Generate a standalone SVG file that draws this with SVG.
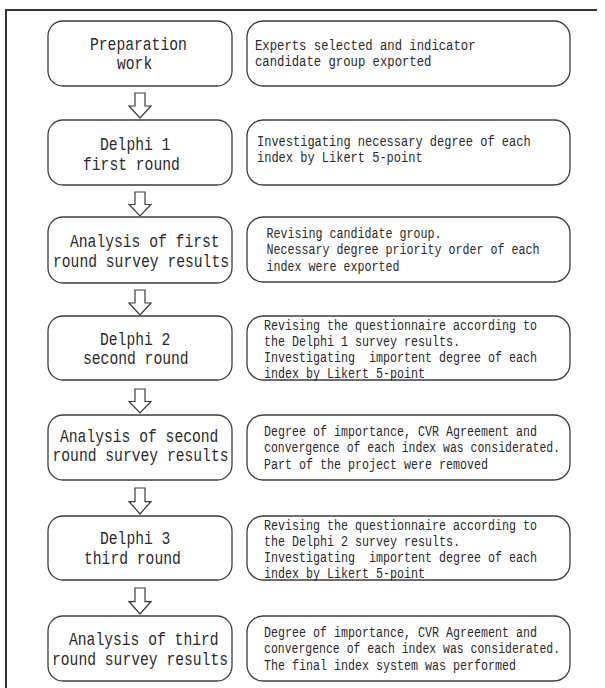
<svg xmlns="http://www.w3.org/2000/svg" width="605" height="688" viewBox="0 0 605 688">
<style>
.frame{fill:none;stroke:#333;stroke-width:2}
.box{fill:#fff;stroke:#3c3c3c;stroke-width:1.3}
.arr{fill:#fff;stroke:#3c3c3c;stroke-width:1.2;stroke-linejoin:miter}
.lt{font-family:"Liberation Mono","DejaVu Sans Mono",monospace;font-size:17.5px;fill:#2a2a2a}
.rt{font-family:"Liberation Mono","DejaVu Sans Mono",monospace;font-size:14px;fill:#2a2a2a}
</style>
<defs>
<path id="dn" d="M-5,0 H5 V13 H11 L0,25 L-11,13 H-5 Z"/>
</defs>
<rect width="605" height="688" fill="#fff"/>
<path class="frame" d="M6,688 V10 H597"/>

<g id="connectors">
<use href="#dn" class="arr" transform="translate(140,93)"/>
<use href="#dn" class="arr" transform="translate(140,192) scale(1,0.96)"/>
<use href="#dn" class="arr" transform="translate(140,290)"/>
<use href="#dn" class="arr" transform="translate(140,389) scale(1,0.96)"/>
<use href="#dn" class="arr" transform="translate(140,488) scale(1,1.04)"/>
<use href="#dn" class="arr" transform="translate(140,588) scale(1,1.04)"/>
</g>

<g id="n1">
<rect class="box" x="48" y="21" width="184" height="65" rx="15"/>
<text class="lt" x="90" y="50" textLength="96.8" lengthAdjust="spacingAndGlyphs">Preparation</text>
<text class="lt" x="117" y="69" textLength="35.2" lengthAdjust="spacingAndGlyphs">work</text>
</g>
<g id="d1">
<rect class="box" x="247" y="21" width="323" height="65" rx="16"/>
<text class="rt" x="255" y="50" textLength="220.5" lengthAdjust="spacingAndGlyphs">Experts selected and indicator</text>
<text class="rt" x="255" y="66" textLength="176.4" lengthAdjust="spacingAndGlyphs">candidate group exported</text>
</g>

<g id="n2">
<rect class="box" x="48" y="120" width="184" height="65" rx="15"/>
<text class="lt" x="100" y="150" textLength="70.4" lengthAdjust="spacingAndGlyphs">Delphi 1</text>
<text class="lt" x="83" y="170" textLength="96.8" lengthAdjust="spacingAndGlyphs">first round</text>
</g>
<g id="d2">
<rect class="box" x="247" y="120" width="323" height="65" rx="16"/>
<text class="rt" x="257" y="146" textLength="273.6" lengthAdjust="spacingAndGlyphs">Investigating necessary degree of each</text>
<text class="rt" x="257" y="162" textLength="165.6" lengthAdjust="spacingAndGlyphs">index by Likert 5-point</text>
</g>

<g id="n3">
<rect class="box" x="48" y="217" width="184" height="66" rx="15"/>
<text class="lt" x="70" y="247" textLength="149.6" lengthAdjust="spacingAndGlyphs">Analysis of first</text>
<text class="lt" x="53" y="267" textLength="176" lengthAdjust="spacingAndGlyphs">round survey results</text>
</g>
<g id="d3">
<rect class="box" x="247" y="217" width="323" height="65" rx="16"/>
<text class="rt" x="266.5" y="237.5" textLength="175" lengthAdjust="spacingAndGlyphs">Revising candidate group.</text>
<text class="rt" x="266.5" y="254" textLength="273" lengthAdjust="spacingAndGlyphs">Necessary degree priority order of each</text>
<text class="rt" x="266.5" y="270.5" textLength="133" lengthAdjust="spacingAndGlyphs">index were exported</text>
</g>

<g id="n4">
<rect class="box" x="48" y="316" width="184" height="64" rx="15"/>
<text class="lt" x="100" y="345" textLength="70.4" lengthAdjust="spacingAndGlyphs">Delphi 2</text>
<text class="lt" x="83" y="364" textLength="105.6" lengthAdjust="spacingAndGlyphs">second round</text>
</g>
<g id="d4">
<rect class="box" x="247" y="316" width="323" height="64" rx="16"/>
<text class="rt" x="264" y="330" textLength="273" lengthAdjust="spacingAndGlyphs">Revising the questionnaire according to</text>
<text class="rt" x="264" y="346" textLength="196" lengthAdjust="spacingAndGlyphs">the Delphi 1 survey results.</text>
<text class="rt" x="264" y="362" textLength="273" lengthAdjust="spacingAndGlyphs" xml:space="preserve">Investigating  importent degree of each</text>
<text class="rt" x="264" y="378" textLength="161" lengthAdjust="spacingAndGlyphs">index by Likert 5-point</text>
</g>

<g id="n5">
<rect class="box" x="48" y="415" width="184" height="65" rx="15"/>
<text class="lt" x="60" y="442" textLength="158.4" lengthAdjust="spacingAndGlyphs">Analysis of second</text>
<text class="lt" x="52.5" y="461" textLength="176" lengthAdjust="spacingAndGlyphs">round survey results</text>
</g>
<g id="d5">
<rect class="box" x="247" y="415" width="323" height="65" rx="16"/>
<text class="rt" x="264" y="435.5" textLength="273" lengthAdjust="spacingAndGlyphs">Degree of importance, CVR Agreement and</text>
<text class="rt" transform="translate(264,452) scale(0.82,1)">convergence of each index was considerated.</text>
<text class="rt" x="264" y="468.5" textLength="224" lengthAdjust="spacingAndGlyphs">Part of the project were removed</text>
</g>

<g id="n6">
<rect class="box" x="48" y="516" width="184" height="64" rx="15"/>
<text class="lt" x="100" y="544" textLength="70.4" lengthAdjust="spacingAndGlyphs">Delphi 3</text>
<text class="lt" x="84" y="564" textLength="96.8" lengthAdjust="spacingAndGlyphs">third round</text>
</g>
<g id="d6">
<rect class="box" x="247" y="516" width="323" height="64" rx="16"/>
<text class="rt" x="264" y="530" textLength="273" lengthAdjust="spacingAndGlyphs">Revising the questionnaire according to</text>
<text class="rt" x="264" y="546" textLength="196" lengthAdjust="spacingAndGlyphs">the Delphi 2 survey results.</text>
<text class="rt" x="264" y="562" textLength="273" lengthAdjust="spacingAndGlyphs" xml:space="preserve">Investigating  importent degree of each</text>
<text class="rt" x="264" y="578" textLength="161" lengthAdjust="spacingAndGlyphs">index by Likert 5-point</text>
</g>

<g id="n7">
<rect class="box" x="48" y="616" width="184" height="65" rx="15"/>
<text class="lt" x="69" y="645" textLength="149.6" lengthAdjust="spacingAndGlyphs">Analysis of third</text>
<text class="lt" x="52" y="665" textLength="176" lengthAdjust="spacingAndGlyphs">round survey results</text>
</g>
<g id="d7">
<rect class="box" x="247" y="616" width="323" height="65" rx="16"/>
<text class="rt" x="264" y="636.5" textLength="273" lengthAdjust="spacingAndGlyphs">Degree of importance, CVR Agreement and</text>
<text class="rt" transform="translate(264,653) scale(0.82,1)">convergence of each index was considerated.</text>
<text class="rt" x="264" y="669.5" textLength="252" lengthAdjust="spacingAndGlyphs">The final index system was performed</text>
</g>
</svg>
